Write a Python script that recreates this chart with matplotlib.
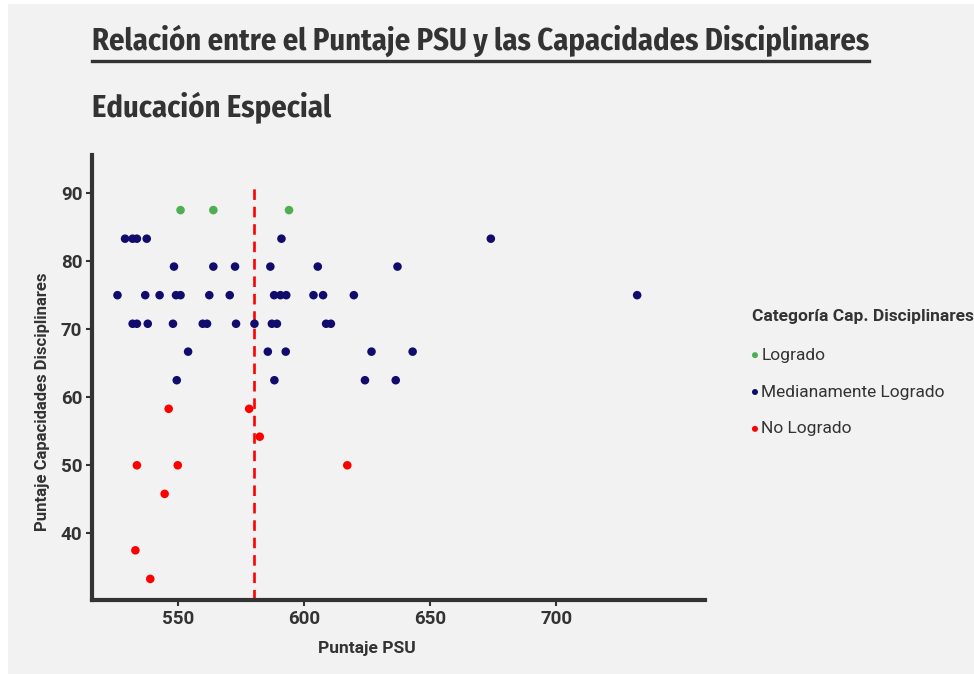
import matplotlib

matplotlib.use("Agg")
import matplotlib.pyplot as plt
from matplotlib.lines import Line2D
from matplotlib.patches import Rectangle
from matplotlib.font_manager import fontManager, FontProperties

W, H = 974, 674
BG = "#f2f2f2"
INK = "#333333"

# ── data ────────────────────────────────────────────────────────────────────
psu_logrado = [551, 564, 594]
cap_logrado = [87.5, 87.5, 87.5]

psu_medio = [529, 532, 533.7, 537.6, 591, 674,
             548.4, 564, 572.6, 586.6, 605.4, 637,
             526, 537, 542.7, 549.2, 551, 562.4, 570.5, 588.1, 590.6, 592.9,
             603.7, 607.5, 619.7, 732,
             532, 533.7, 538, 548, 559.8, 561.5, 573, 580.3, 587.2, 589.2,
             608.7, 610.6,
             554, 585.6, 592.7, 626.7, 643,
             549.5, 588.2, 624.1, 636.3]
cap_medio = [83.3] * 6 + [79.2] * 6 + [75.0] * 14 + [70.8] * 12 + [66.7] * 5 + [62.5] * 4

psu_no = [546.3, 578.2, 582.4, 533.7, 549.9, 617.1, 544.7, 533.1, 539.0]
cap_no = [58.3, 58.3, 54.2, 50.0, 50.0, 50.0, 45.8, 37.5, 33.3]

psu_ref = 580          # dashed reference line
x_ticks = [550, 600, 650, 700]
y_ticks = [40, 50, 60, 70, 80, 90]

categories = ["Logrado", "Medianamente Logrado", "No Logrado"]
colors = ["#4CAF50", "#110B6E", "#FF0000"]

plt.rcParams["font.family"] = ["Roboto", "DejaVu Sans"]


def condensed_bold():
    # look for any installed condensed / narrow bold face for the titles
    prefs = ["Fira Sans", "Roboto", "Noto Sans", "Open Sans", "Liberation Sans", "DejaVu Sans"]
    hits = []
    for f in fontManager.ttflist:
        narrow = ("Condensed" in f.name or "Narrow" in f.name
                  or str(f.stretch) in ("condensed", "semi-condensed"))
        bold = f.weight in (600, 700, "bold", "semibold", "demibold")
        if narrow and bold and "Extra" not in f.name and f.style == "normal":
            rank = next((i for i, p in enumerate(prefs) if f.name.startswith(p)), 99)
            hits.append((rank, f.fname))
    if hits:
        return FontProperties(fname=sorted(hits)[0][1])
    return FontProperties(family="Roboto", weight="bold")


def fx(px):
    return px / W


def fy(py):
    return 1 - py / H


fig = plt.figure(figsize=(W / 100, H / 100), dpi=100, facecolor="white")
fig.add_artist(Rectangle((fx(8), 0), 1 - fx(8), fy(4), transform=fig.transFigure,
                         facecolor=BG, edgecolor="none", zorder=-10))

ax = fig.add_axes([fx(92), fy(600), fx(705) - fx(92), fy(155) - fy(600)])
ax.set_facecolor(BG)
ax.set_xlim(515.9, 758.9)
ax.set_ylim(30.2, 95.6)

for (px, cy), cat, col in zip([(psu_logrado, cap_logrado), (psu_medio, cap_medio),
                               (psu_no, cap_no)], categories, colors):
    ax.scatter(px, cy, s=38, color=col, edgecolors="none", label=cat, zorder=3)

ax.vlines(psu_ref, ax.get_ylim()[0], 91.7, colors="#FF0000", linestyles=(0, (4, 2.6)),
          lw=1.9, zorder=2)

for side in ("top", "right"):
    ax.spines[side].set_visible(False)
for side in ("left", "bottom"):
    ax.spines[side].set_linewidth(3)
    ax.spines[side].set_color(INK)

ax.set_xticks(x_ticks)
ax.set_yticks(y_ticks)
ax.tick_params(length=4, width=1.5, color=INK, labelcolor=INK, labelsize=13.5, pad=3)
for lab in ax.get_xticklabels() + ax.get_yticklabels():
    lab.set_fontweight("bold")

ax.set_xlabel("Puntaje PSU", fontsize=12.5, fontweight="bold", color=INK)
ax.set_ylabel("Puntaje Capacidades Disciplinares", fontsize=12, fontweight="bold",
              color=INK)
ax.xaxis.set_label_coords(0.449, -0.093)
ax.yaxis.set_label_coords(-0.068, 0.445)

leg = ax.legend(loc="upper left", bbox_to_anchor=(fx(745), fy(302)),
                bbox_transform=fig.transFigure, frameon=False,
                title="Categoría Cap. Disciplinares", fontsize=12.5,
                handletextpad=0.2, labelspacing=1.25, markerscale=0.7,
                borderaxespad=0, handlelength=0.35)
leg.get_title().set_fontweight("bold")
leg.get_title().set_fontsize(12.5)
leg.get_title().set_color(INK)
leg._legend_box.align = "left"
leg._legend_box.sep = 17
for t in leg.get_texts():
    t.set_color(INK)

tfont = condensed_bold()
title = fig.text(fx(92), fy(50), "Relación entre el Puntaje PSU y las Capacidades Disciplinares",
                 fontproperties=tfont, fontsize=22, color=INK)
sub = fig.text(fx(92), fy(117), "Educación Especial", fontproperties=tfont, fontsize=22,
               color=INK)

# fit title to the reference width and underline it
fig.canvas.draw()
bb = title.get_window_extent()
size = 22 * (870 - 92) / bb.width
title.set_fontsize(size)
sub.set_fontsize(size)
fig.canvas.draw()
bb = title.get_window_extent()
fig.add_artist(Line2D([bb.x0 / W, bb.x1 / W], [fy(61), fy(61)], transform=fig.transFigure,
                      color=INK, lw=2.4))

fig.savefig("out.png", dpi=100, facecolor=fig.get_facecolor())
